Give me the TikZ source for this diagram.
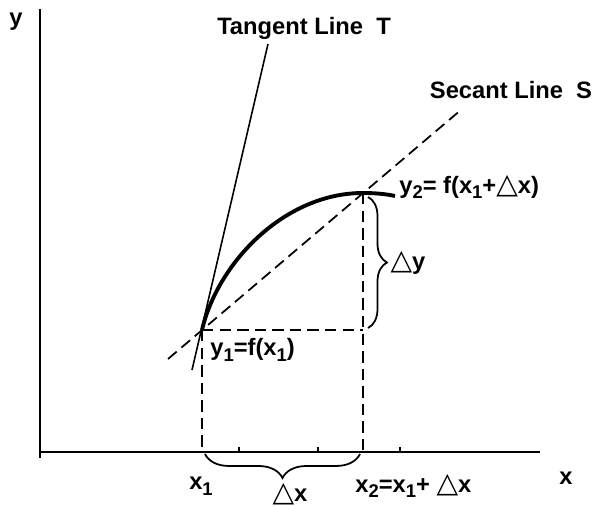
\documentclass[tikz,border=0pt]{standalone}
\usepackage{fontspec}
\setmainfont{Liberation Sans}
\newfontfamily\trifont{DejaVu Sans}
\usetikzlibrary{decorations.pathreplacing, calc}
\newcommand{\dlt}{{\trifont\mdseries\fontsize{16}{16}\selectfont\char"25B3}}
\newcommand{\lowsub}[1]{\raisebox{-0.45ex}{\fontsize{10.5}{12}\selectfont #1}}

\begin{document}
\begin{tikzpicture}[x=0.02cm, y=-0.02cm,
  lab/.style={font=\fontsize{13.5}{15}\selectfont\bfseries, inner sep=0pt},
  axis/.style={line width=1.4pt},
  guide/.style={line width=1.2pt, dash pattern=on 6.5pt off 3.5pt},
  brc/.style={decorate, line width=1pt}
]
  \useasboundingbox (0,0) rectangle (603,506);

  % ── Axes ──
  \coordinate (o) at (40,452);
  \coordinate (ytop) at (40,9);
  \coordinate (xend) at (540,452);
  \draw[axis] (ytop) -- (40,458);
  \draw[axis] (o) -- (xend);
  \node[lab] (ylab) at (16,22) {y};
  \node[lab] (xlab) at (566,478) {x};
  \foreach \tx in {239,318,400}
    \draw[line width=0.6pt] (\tx,452) -- (\tx,447);

  % ── Points on the curve ──
  \coordinate (p1) at (202,330);
  \coordinate (p2) at (363,193);
  \coordinate (q) at (363,330);
  \coordinate (x1) at (202,452);
  \coordinate (x2) at (363,452);

  % ── Curve ──
  \draw[line width=2.2pt] (p1) .. controls (218,262) and (285,193) .. (p2)
    .. controls (375,193) and (386,194) .. (395,196);

  % ── Tangent and secant ──
  \coordinate (tlo) at (192,370);
  \coordinate (thi) at (268,44);
  \draw[line width=0.9pt] (tlo) -- (thi);
  \coordinate (slo) at (168,359);
  \coordinate (shi) at (462,109);
  \draw[guide, line width=1pt] (slo) -- (shi);

  % ── Guide lines ──
  \draw[guide] (p1) -- (x1);
  \draw[guide] (p2) -- (x2);
  \draw[guide] (p1) -- (q);

  % ── Braces ──
  \draw[brc, decoration={brace, amplitude=0.38cm}] (368,197) -- (368,328);
  \draw[brc, decoration={brace, amplitude=0.48cm}] (360,454) -- (205,454);

  % ── Labels ──
  \node[lab] (tang) at (304,28) {Tangent Line\ \ T};
  \node[lab] (sec) at (511,90) {Secant Line\ \ S};
  \node[lab, anchor=west] (y2) at (399,187) {y\lowsub{2}= f(x\lowsub{1}+\dlt x)};
  \node[lab, anchor=west] (y1) at (210,350) {y\lowsub{1}=f(x\lowsub{1})};
  \node[lab] (dy) at (408,263) {\dlt y};
  \node[lab] (x1lab) at (201,486) {x\lowsub{1}};
  \node[lab] (dx) at (290,494) {\dlt x};
  \node[lab, anchor=west] (x2lab) at (355,486) {x\lowsub{2}=x\lowsub{1}+ \dlt x};
\end{tikzpicture}
\end{document}
